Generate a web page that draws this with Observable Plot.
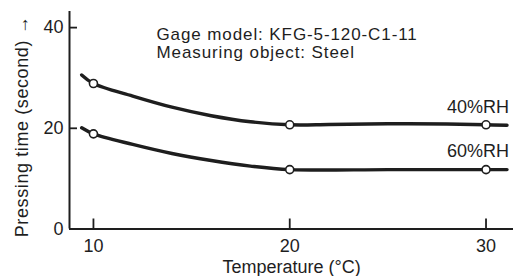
<!DOCTYPE html>
<html>
<head>
<meta charset="utf-8">
<script src="https://cdn.jsdelivr.net/npm/d3@7"></script>
<script src="https://cdn.jsdelivr.net/npm/@observablehq/plot@0.6"></script>
<style>
  html, body { margin: 0; padding: 0; background: #fff; }
  #chart svg { display: block; }
</style>
</head>
<body>
<div id="chart"></div>
<script>
// Curve readings (temperature °C, pressing time s)
const rh40Temp = [9.4, 10, 12, 14, 16, 18, 20, 22, 25, 28, 30, 31.07];
const rh40Time = [30.6, 28.9, 26.4, 24.2, 22.5, 21.3, 20.7, 20.75, 20.9, 20.85, 20.7, 20.6];
const rh60Temp = [9.4, 10, 12, 14, 16, 18, 20, 25, 30, 31.07];
const rh60Time = [20.1, 18.9, 16.8, 15.0, 13.6, 12.5, 11.8, 11.8, 11.8, 11.8];
// Measured points
const pointTemp = [10, 20, 30];
const rh40Points = [28.9, 20.7, 20.7];
const rh60Points = [18.9, 11.8, 11.8];
const seriesNames = ["40%RH", "60%RH"];
const xTicks = [10, 20, 30];
const yTicks = [0, 20, 40];
const annotation = "Gage model: KFG-5-120-C1-11\nMeasuring object: Steel";
const xLabel = "Temperature (°C)";
const yLabel = "Pressing time (second) →";

const curves = [
  ...rh40Temp.map((t, i) => ({series: seriesNames[0], t, v: rh40Time[i]})),
  ...rh60Temp.map((t, i) => ({series: seriesNames[1], t, v: rh60Time[i]}))
];
const points = [
  ...pointTemp.map((t, i) => ({series: seriesNames[0], t, v: rh40Points[i]})),
  ...pointTemp.map((t, i) => ({series: seriesNames[1], t, v: rh60Points[i]}))
];
const labels = [
  {series: seriesNames[0], t: rh40Temp[rh40Temp.length - 1], v: rh40Time[rh40Time.length - 1]},
  {series: seriesNames[1], t: rh60Temp[rh60Temp.length - 1], v: rh60Time[rh60Time.length - 1]}
];

const W = 516, H = 276;
const mL = 69, mR = 3, mT = 11, mB = 47.5;
const ink = "#1e1e1e";
const font = "'Liberation Sans', Arial, Helvetica, sans-serif";
const fs = 18;

const chart = Plot.plot({
  width: W, height: H,
  marginLeft: mL, marginRight: mR, marginTop: mT, marginBottom: mB,
  style: {fontFamily: font, fontSize: fs + "px", color: ink, background: "#fff"},
  x: {domain: [8.78, 31.4]},
  y: {domain: [0, 43.2]},
  marks: [
    Plot.axisY({ticks: yTicks, tickSize: 0, tickPadding: 6, label: null, fontSize: fs}),
    Plot.axisX({ticks: xTicks, tickSize: 0, tickPadding: 10, label: null, fontSize: fs}),
    Plot.tickY(yTicks, {y: d => d, stroke: ink, strokeWidth: 1.8, insetRight: W - mL - mR - 8}),
    Plot.tickX(xTicks, {x: d => d, stroke: ink, strokeWidth: 1.8, insetTop: H - mT - mB - 10}),
    Plot.ruleX([8.78], {stroke: ink, strokeWidth: 2}),
    Plot.ruleY([0], {stroke: ink, strokeWidth: 2}),
    Plot.line(curves, {x: "t", y: "v", z: "series", stroke: ink, strokeWidth: 3.4, curve: "catmull-rom"}),
    Plot.dot(points, {x: "t", y: "v", r: 4, fill: "#fff", stroke: ink, strokeWidth: 1.6}),
    Plot.text(labels, {x: "t", y: "v", text: "series", textAnchor: "end", lineAnchor: "middle", dx: 2, dy: -18.5, fontSize: fs, fill: ink}),
    Plot.text([annotation], {frameAnchor: "top-left", text: d => d, textAnchor: "start", lineAnchor: "top", dx: 87, dy: 15.9, lineHeight: 18 / 17, fontSize: 17, fill: ink}),
    Plot.text([xLabel], {frameAnchor: "bottom", text: d => d, textAnchor: "middle", lineAnchor: "middle", dx: 0, dy: 38.7, fontSize: fs, fill: ink}),
    Plot.text([yLabel], {frameAnchor: "left", text: d => d, rotate: -90, textAnchor: "middle", lineAnchor: "middle", dx: -46.8, dy: 6.25, fontSize: fs, fill: ink})
  ]
});
// slightly looser tracking, as in the reference typesetting
d3.select(chart).selectAll("text").each(function() {
  const t = this.textContent;
  if (t.startsWith("Gage") || t.startsWith("Measuring")) this.setAttribute("letter-spacing", "0.9");
  if (t.startsWith("Pressing")) this.setAttribute("letter-spacing", "0.6");
});
document.getElementById("chart").append(chart);
</script>
</body>
</html>
